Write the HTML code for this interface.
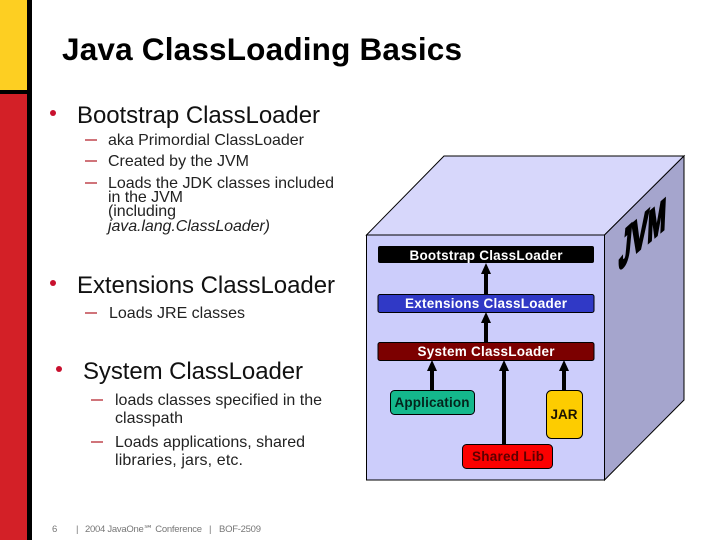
<!DOCTYPE html>
<html><head><meta charset="utf-8"><style>
html,body{margin:0;padding:0;background:#fff;width:720px;height:540px;overflow:hidden}
svg{display:block}
text{font-family:"Liberation Sans",sans-serif}
</style></head><body>
<svg width="720" height="540" viewBox="0 0 720 540" xmlns="http://www.w3.org/2000/svg">
<rect x="0" y="0" width="27" height="90" fill="#fdcf22"/>
<rect x="0" y="94" width="27" height="446" fill="#d32027"/>
<rect x="0" y="90" width="32" height="4" fill="#000"/>
<rect x="27" y="0" width="5" height="540" fill="#000"/>

<text x="62" y="60" font-size="31.5" font-weight="bold" textLength="400" lengthAdjust="spacing">Java ClassLoading Basics</text>

<g fill="#c8102e">
<circle cx="53" cy="113" r="3"/><circle cx="53" cy="283" r="3"/><circle cx="59" cy="369" r="3"/>
</g>
<g font-size="24" fill="#111">
<text x="77" y="123" textLength="243" lengthAdjust="spacing">Bootstrap ClassLoader</text>
<text x="77" y="293" textLength="258" lengthAdjust="spacing">Extensions ClassLoader</text>
<text x="83" y="379" textLength="220" lengthAdjust="spacing">System ClassLoader</text>
</g>
<g stroke="#b5222a" stroke-width="1.2">
<path d="M85 140H97M85 161H97M85 183H97M85 313H97M91 400H103M91 442H103"/>
</g>
<g font-size="16" fill="#222">
<text x="108" y="145" textLength="196" lengthAdjust="spacing">aka Primordial ClassLoader</text>
<text x="108" y="166" textLength="141" lengthAdjust="spacing">Created by the JVM</text>
<text x="108" y="188" textLength="226" lengthAdjust="spacing">Loads the JDK classes included</text>
<text x="108" y="202" textLength="75" lengthAdjust="spacing">in the JVM</text>
<text x="108" y="216" textLength="68" lengthAdjust="spacing">(including</text>
<text x="108" y="231" font-style="italic" textLength="162" lengthAdjust="spacing">java.lang.ClassLoader)</text>
<text x="109" y="318" textLength="136" lengthAdjust="spacing">Loads JRE classes</text>
<text x="115" y="405" textLength="207" lengthAdjust="spacing">loads classes specified in the</text>
<text x="115" y="423" textLength="68" lengthAdjust="spacing">classpath</text>
<text x="115" y="447" textLength="190" lengthAdjust="spacing">Loads applications, shared</text>
<text x="115" y="465" textLength="128" lengthAdjust="spacing">libraries, jars, etc.</text>
</g>
<g font-size="9.5" fill="#777">
<text x="52" y="532">6</text>
<text x="76" y="532">|</text>
<text x="85" y="532" textLength="117" lengthAdjust="spacing">2004 JavaOne℠ Conference</text>
<text x="209" y="532">|</text>
<text x="219" y="532" textLength="42" lengthAdjust="spacing">BOF-2509</text>
</g>

<polygon points="444,156 684,156 604.5,235 366.5,235" fill="#d7d7fb" stroke="#000" stroke-width="1"/>
<polygon points="604.5,235 684,156 684,400 604.5,480" fill="#a5a5cd" stroke="#000" stroke-width="1"/>
<rect x="366.5" y="235" width="238" height="245" fill="#cccdfb" stroke="#000" stroke-width="1"/>

<g font-size="10" font-weight="bold" fill="#000" stroke="#000" stroke-width="0.6">
<text transform="matrix(2.1,-1.9,-0.5,5.5,618,271)">J</text>
<text transform="matrix(2.6,-2.3,-0.3,4.9,630,258)">V</text>
<text transform="matrix(2.2,-1.9,-0.2,4.5,647,244)">M</text>
</g>

<g stroke="#000" stroke-width="4" fill="none">
<path d="M486 294V272M486 342V320M432 390V370M504 444V370M564 390V370"/>
</g>
<g fill="#000">
<polygon points="486,263 491,274 481,274"/>
<polygon points="486,312 491,323 481,323"/>
<polygon points="432,360 437,371 427,371"/>
<polygon points="504,360 509,371 499,371"/>
<polygon points="564,360 569,371 559,371"/>
</g>

<rect x="378" y="246" width="216" height="17" rx="2" fill="#000"/>
<rect x="378" y="294.5" width="216" height="18" rx="2" fill="#3039c6" stroke="#000" stroke-width="1"/>
<rect x="378" y="342.5" width="216" height="18" rx="2" fill="#7c0000" stroke="#000" stroke-width="1"/>
<rect x="390.5" y="390.5" width="84" height="24" rx="4" fill="#14b88c" stroke="#000" stroke-width="1"/>
<rect x="546.5" y="390.5" width="36" height="48" rx="5" fill="#fdcc00" stroke="#000" stroke-width="1"/>
<rect x="462.5" y="444.5" width="90" height="24" rx="4" fill="#fb0000" stroke="#000" stroke-width="1"/>

<g font-size="13.5" font-weight="bold" fill="#fff" text-anchor="middle">
<text x="486" y="260" textLength="153" lengthAdjust="spacing">Bootstrap ClassLoader</text>
<text x="486" y="308" textLength="162" lengthAdjust="spacing">Extensions ClassLoader</text>
<text x="486" y="356" textLength="137" lengthAdjust="spacing">System ClassLoader</text>
</g>
<g font-size="13.5" font-weight="bold" text-anchor="middle">
<text x="432" y="407" fill="#04241c" textLength="75" lengthAdjust="spacing">Application</text>
<text x="564" y="419" fill="#1c1400" textLength="27" lengthAdjust="spacing">JAR</text>
<text x="508" y="461" fill="#5c0000" textLength="72" lengthAdjust="spacing">Shared Lib</text>
</g>
</svg>
</body></html>
